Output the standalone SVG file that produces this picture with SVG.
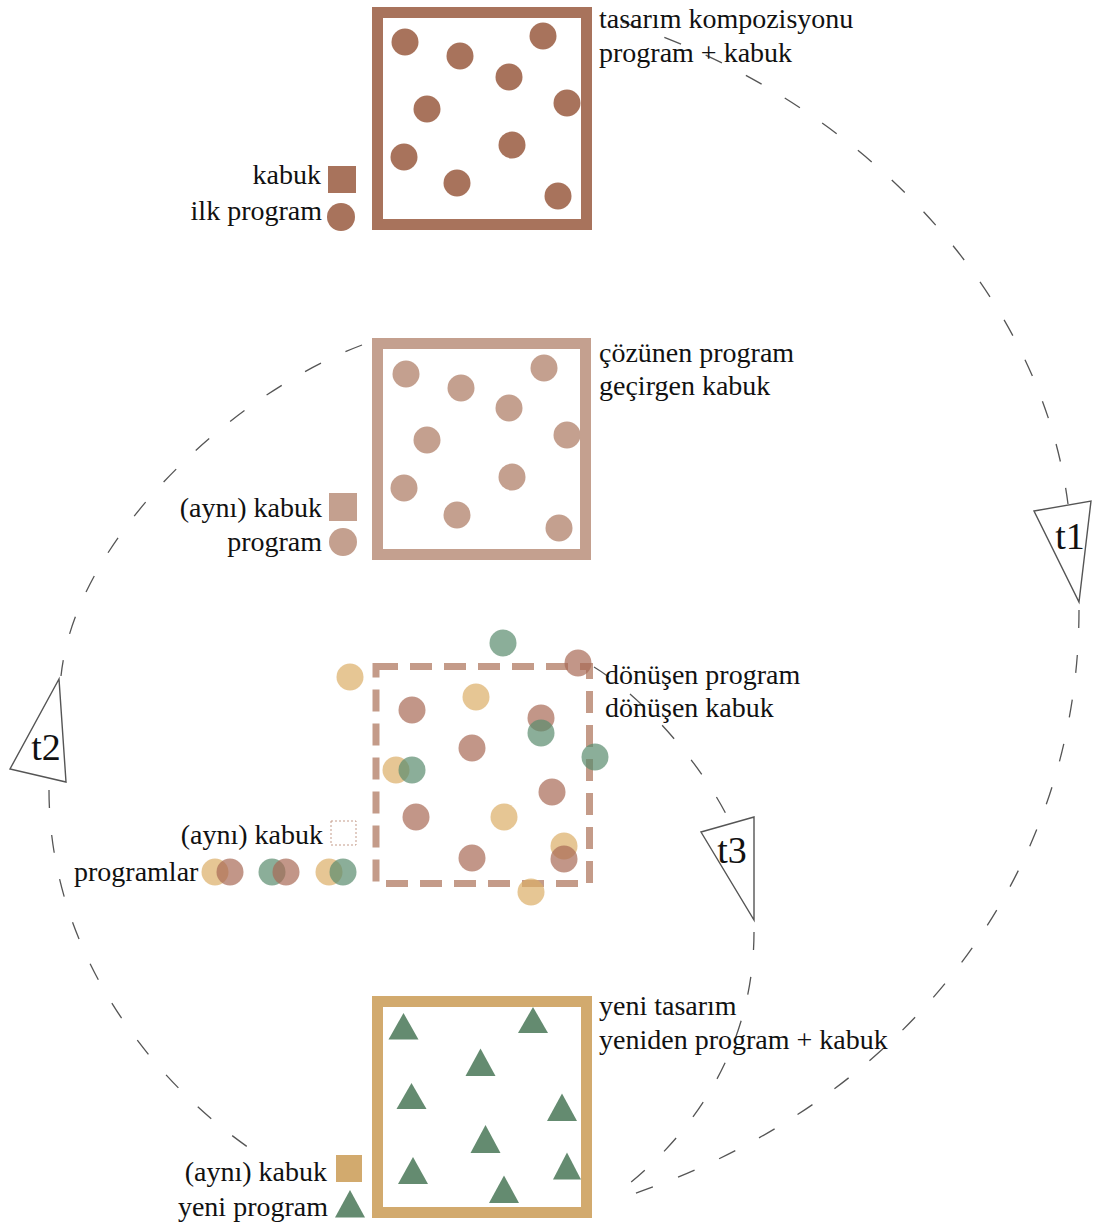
<svg xmlns="http://www.w3.org/2000/svg" width="1094" height="1228" viewBox="0 0 1094 1228">
<style>
text{font-family:"Liberation Serif","Times New Roman",serif;font-size:28px;fill:#111}
.lbl{text-anchor:end}
.t{font-size:38px;text-anchor:middle}
.c1{fill:#a8735c}
.c2{fill:#c4a08f}
.b{fill:#a86a55;fill-opacity:.7}
.y{fill:#dcae66;fill-opacity:.7}
.g{fill:#5a8c6e;fill-opacity:.7}
.tri{fill:#648b70}
.dash{fill:none;stroke:#555;stroke-width:1.3;stroke-dasharray:18 27}
.mk{fill:#fff;stroke:#555;stroke-width:1.4;stroke-linejoin:miter}
</style>
<rect width="1094" height="1228" fill="#fff"/>
<g id="connectors">
  <path class="dash" d="M622,22 C860,100 1040,290 1068,504"/>
  <path class="dash" d="M1079,610 C1079,880 900,1110 615,1200"/>
  <path class="dash" d="M362,345 C230,395 75,540 61,676"/>
  <path class="dash" d="M49,790 C49,950 150,1080 252,1150"/>
  <path class="dash" d="M594,667 C640,695 700,760 730,822"/>
  <path class="dash" d="M754,932 C754,1050 690,1140 612,1197"/>
</g>
<g id="marker-t1">
  <polygon class="mk" points="1034,511 1091,501 1079,602"/>
  <text class="t" x="1070" y="549">t1</text>
</g>
<g id="marker-t2">
  <polygon class="mk" points="59,679 10,769 66,782"/>
  <text class="t" x="46" y="760">t2</text>
</g>
<g id="marker-t3">
  <polygon class="mk" points="701,832 754,817 754,920"/>
  <text class="t" x="732" y="863">t3</text>
</g>
<g id="node-1">
  <rect x="377.5" y="12.5" width="209" height="212" fill="none" stroke="#a8735c" stroke-width="11"/>
  <circle class="c1" cx="405" cy="42" r="13.5"/>
  <circle class="c1" cx="460" cy="56" r="13.5"/>
  <circle class="c1" cx="543" cy="36" r="13.5"/>
  <circle class="c1" cx="509" cy="77" r="13.5"/>
  <circle class="c1" cx="427" cy="109" r="13.5"/>
  <circle class="c1" cx="567" cy="103" r="13.5"/>
  <circle class="c1" cx="404" cy="157" r="13.5"/>
  <circle class="c1" cx="512" cy="145" r="13.5"/>
  <circle class="c1" cx="457" cy="183" r="13.5"/>
  <circle class="c1" cx="558" cy="196" r="13.5"/>
  <rect class="c1" x="328" y="166" width="28" height="27"/>
  <circle class="c1" cx="341" cy="217" r="14"/>
  <text class="lbl" x="321" y="184">kabuk</text>
  <text class="lbl" x="322" y="220">ilk program</text>
  <text x="599" y="28">tasarım kompozisyonu</text>
  <text x="599" y="62">program + kabuk</text>
</g>
<g id="node-2">
  <rect x="377.5" y="343.5" width="208" height="211" fill="none" stroke="#c4a08f" stroke-width="11"/>
  <circle class="c2" cx="406" cy="374" r="13.5"/>
  <circle class="c2" cx="461" cy="388" r="13.5"/>
  <circle class="c2" cx="544" cy="368" r="13.5"/>
  <circle class="c2" cx="509" cy="408" r="13.5"/>
  <circle class="c2" cx="427" cy="440" r="13.5"/>
  <circle class="c2" cx="567" cy="435" r="13.5"/>
  <circle class="c2" cx="404" cy="488" r="13.5"/>
  <circle class="c2" cx="512" cy="477" r="13.5"/>
  <circle class="c2" cx="457" cy="515" r="13.5"/>
  <circle class="c2" cx="559" cy="528" r="13.5"/>
  <rect class="c2" x="329" y="493" width="28" height="28"/>
  <circle class="c2" cx="343" cy="542" r="14"/>
  <text class="lbl" x="322" y="517">(aynı) kabuk</text>
  <text class="lbl" x="322" y="551">program</text>
  <text x="599" y="362">çözünen program</text>
  <text x="599" y="395">geçirgen kabuk</text>
</g>
<g id="node-3">
  <rect x="376" y="666.5" width="213.5" height="217" fill="none" stroke="#c49b89" stroke-width="7" stroke-dasharray="22 12"/>
  <circle class="g" cx="503" cy="643" r="13.5"/>
  <circle class="b" cx="578" cy="663" r="13.5"/>
  <circle class="y" cx="350" cy="677" r="13.5"/>
  <circle class="y" cx="476" cy="697" r="13.5"/>
  <circle class="b" cx="412" cy="710" r="13.5"/>
  <circle class="b" cx="541" cy="718" r="13.5"/>
  <circle class="g" cx="541" cy="733" r="13.5"/>
  <circle class="b" cx="472" cy="748" r="13.5"/>
  <circle class="g" cx="595" cy="757" r="13.5"/>
  <circle class="y" cx="396" cy="770" r="13.5"/>
  <circle class="g" cx="412" cy="770" r="13.5"/>
  <circle class="b" cx="552" cy="792" r="13.5"/>
  <circle class="b" cx="416" cy="817" r="13.5"/>
  <circle class="y" cx="504" cy="817" r="13.5"/>
  <circle class="y" cx="564" cy="846" r="13.5"/>
  <circle class="b" cx="564" cy="859" r="13.5"/>
  <circle class="b" cx="472" cy="858" r="13.5"/>
  <circle class="y" cx="531" cy="892" r="13.5"/>
  <rect x="331" y="821" width="25" height="24" fill="none" stroke="#c49b89" stroke-width="1" stroke-dasharray="2 2"/>
  <text class="lbl" x="323" y="844">(aynı) kabuk</text>
  <text x="74" y="881">programlar</text>
  <circle class="y" cx="215" cy="872" r="13.5"/>
  <circle class="b" cx="230" cy="872" r="13.5"/>
  <circle class="g" cx="272" cy="872" r="13.5"/>
  <circle class="b" cx="286" cy="872" r="13.5"/>
  <circle class="y" cx="329" cy="872" r="13.5"/>
  <circle class="g" cx="343" cy="872" r="13.5"/>
  <text x="605" y="684">dönüşen program</text>
  <text x="605" y="717">dönüşen kabuk</text>
</g>
<g id="node-4">
  <rect x="377.5" y="1001.5" width="209" height="211" fill="none" stroke="#d2aa6e" stroke-width="11"/>
  <polygon class="tri" points="403.5,1013 418.5,1039.5 388.5,1039.5"/>
  <polygon class="tri" points="533,1007 548,1033 518,1033"/>
  <polygon class="tri" points="480.5,1048.5 495.5,1076 465.5,1076"/>
  <polygon class="tri" points="411.5,1083 426.5,1109 396.5,1109"/>
  <polygon class="tri" points="562,1093.5 577,1121 547,1121"/>
  <polygon class="tri" points="485.5,1125 500.5,1153 470.5,1153"/>
  <polygon class="tri" points="413,1157 428,1184 398,1184"/>
  <polygon class="tri" points="567,1152.5 581,1179.5 553,1179.5"/>
  <polygon class="tri" points="504,1175.5 519,1203 489,1203"/>
  <rect x="336" y="1155" width="26" height="27" fill="#d2aa6e"/>
  <polygon class="tri" points="350,1190 365,1217.5 335,1217.5"/>
  <text class="lbl" x="327" y="1181">(aynı) kabuk</text>
  <text class="lbl" x="328" y="1216">yeni program</text>
  <text x="599" y="1015">yeni tasarım</text>
  <text x="599" y="1049">yeniden program + kabuk</text>
</g>
</svg>
